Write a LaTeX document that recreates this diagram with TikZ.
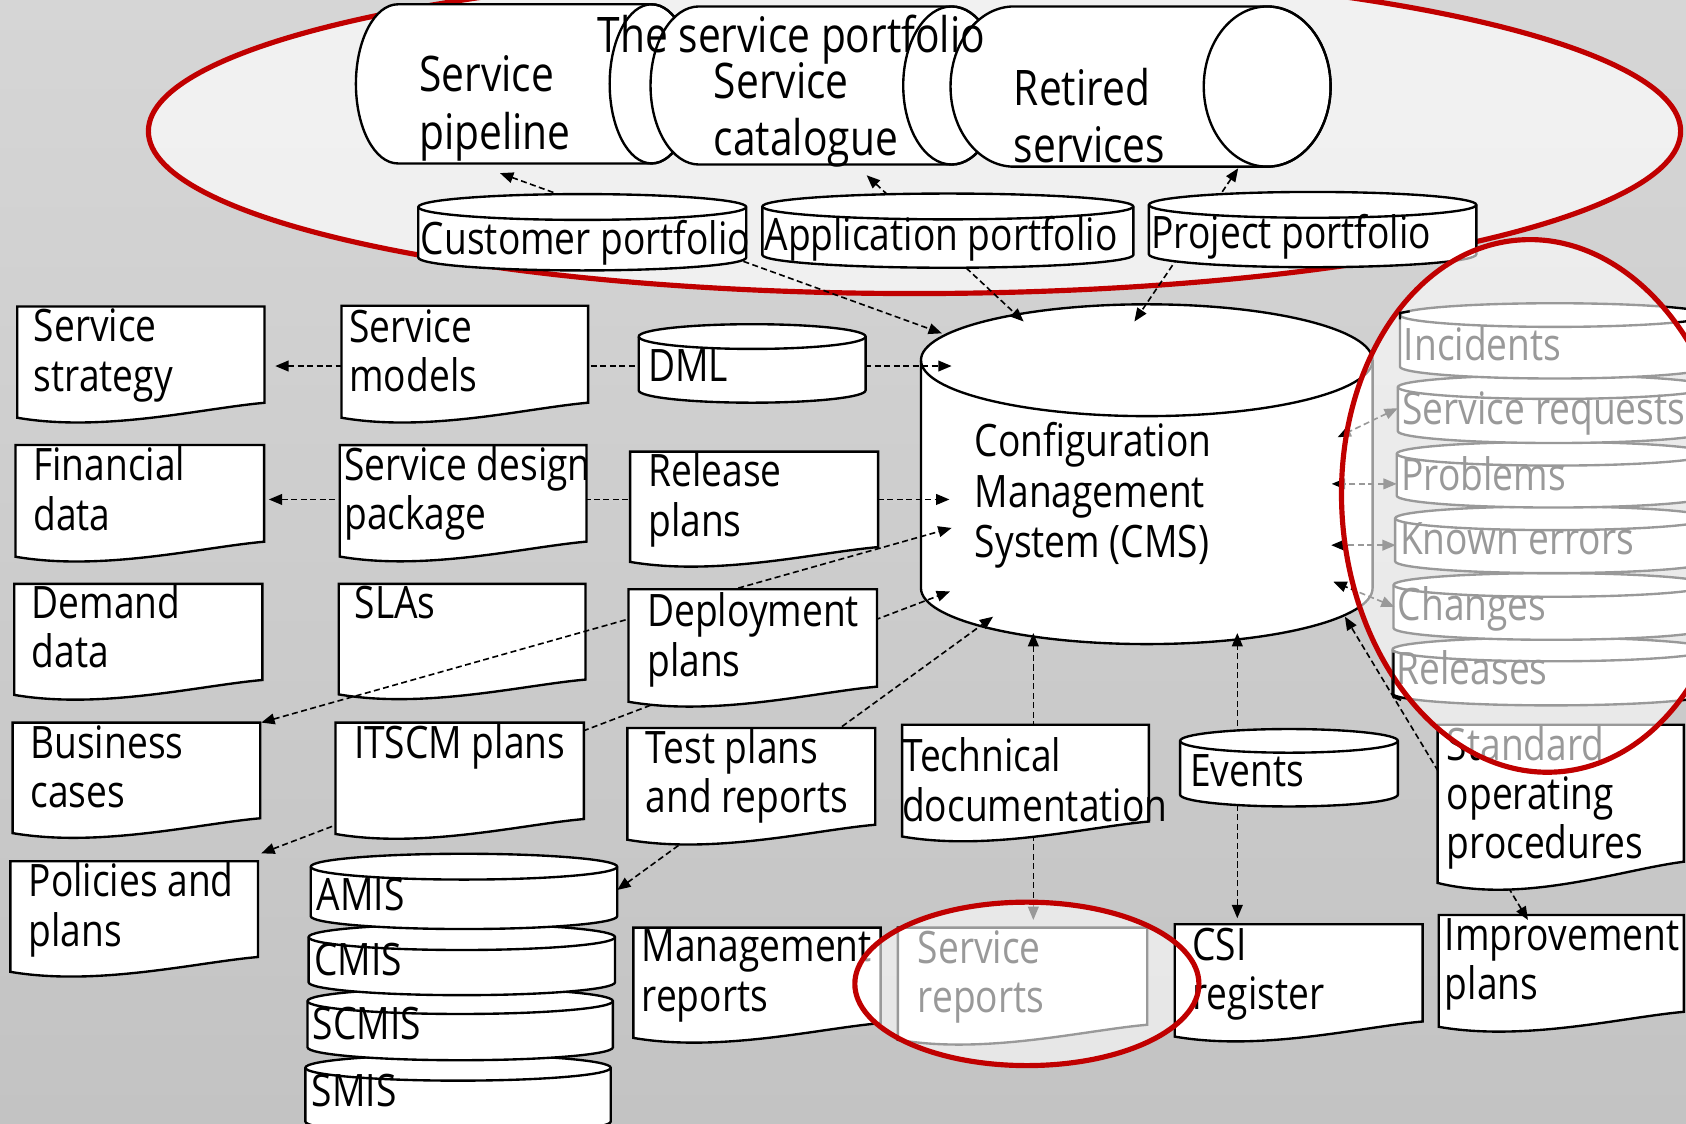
\documentclass[tikz,border=0pt]{standalone}
\usepackage{fontspec}
\setmainfont{Open Sans}[FakeStretch=0.83]
\usetikzlibrary{arrows.meta}
\definecolor{bgtop}{HTML}{D6D6D6}
\definecolor{bgbot}{HTML}{C3C3C3}
\definecolor{ringred}{HTML}{C00000}
\newcommand\fsN{\fontsize{20.8pt}{23pt}\selectfont}
\newcommand\fsC{\fontsize{20.8pt}{23.5pt}\selectfont}
\newcommand\fsT{\fontsize{22.8pt}{26.75pt}\selectfont}
% document shape: x, top, width, height of the right side
\newcommand\docbox[4]{%
  \path[shp] (#1,#2) -- ({#1+#3},#2) -- ({#1+#3},{#2+#4})
    .. controls ({#1+0.75*#3},{#2+1.056*#4}) and ({#1+0.35*#3},{#2+1.31*#4}) .. (#1,{#2+1.155*#4}) -- cycle;}
% horizontal cylinder: left cap centre x, right cap centre x, top, bottom, cap radius
\newcommand\hcyl[5]{%
  \pgfmathsetmacro\hcry{(#4-#3)/2}%
  \pgfmathsetmacro\hcyc{(#4+#3)/2}%
  \path[shp] (#1,#3) -- (#2,#3) arc[start angle=-90, end angle=90, x radius=#5, y radius=\hcry]
     -- (#1,#4) arc[start angle=90, end angle=270, x radius=#5, y radius=\hcry] -- cycle;
  \draw[shpl] (#2,\hcyc) ellipse [x radius=#5, y radius=\hcry];}
% upright disk store: left x, right x, top-ellipse centre y, ellipse radius y, side height
\newcommand\vdisk[5]{%
  \pgfmathsetmacro\vdrx{(#2-#1)/2}%
  \path[shp] (#1,#3) -- ++(0,#5) arc[start angle=180, end angle=0, x radius=\vdrx, y radius=#4]
     -- (#2,#3) arc[start angle=0, end angle=-180, x radius=\vdrx, y radius=#4] -- cycle;
  \draw[shpl] (#1,#3) arc[start angle=180, end angle=0, x radius=\vdrx, y radius=#4];}
\begin{document}
\begin{tikzpicture}[x=0.5pt, y=-0.5pt,
  shp/.style={draw=black, line width=1.1pt, fill=white, line join=miter},
  shpl/.style={draw=black, line width=1.1pt},
  conn/.style={line width=0.75pt, dash pattern=on 2.8pt off 1.6pt,
    {Triangle[length=6.2pt,width=5pt]}-{Triangle[length=6.2pt,width=5pt]}},
  txt/.style={inner sep=0pt, outer sep=0pt, align=left, anchor=north west, font=\fsN},
  lbl/.style={inner sep=0pt, outer sep=0pt, anchor=base west, font=\fsN},
  ring/.style={draw=ringred, line width=2.4pt},
  veil/.style={fill=white, fill opacity=0.6}]

\useasboundingbox (0,0) rectangle (1568,1045);
\fill[top color=bgtop, bottom color=bgbot] (0,0) rectangle (1568,1045);

% the service portfolio group (lighter ground)
\draw[ring, fill=white, fill opacity=0.68] (850.5,122) ellipse [x radius=712.5, y radius=151];

% ---------- end shapes ----------
\hcyl{370}{606}{4}{152}{39}
\hcyl{650}{885}{6}{153}{45}
\hcyl{943}{1178.5}{6}{155}{59}
\node[txt, font=\fsT] (pipe) at (390,47.85) {\strut Service\\pipeline};
\node[txt, font=\fsT] (cat) at (664,54.05) {\strut Service\\catalogue};
\node[txt, font=\fsT] (ret) at (943,60.5) {\strut Retired\\services};
\node[lbl, font=\fsT] (portfolio) at (556,49) {The service portfolio};

% configuration management system
\path[shp] (856.5,335) -- (856.5,547) arc[start angle=180, end angle=0, x radius=210, y radius=52]
   -- (1276.5,335) arc[start angle=0, end angle=-180, x radius=210, y radius=52] -- cycle;
\draw[shpl] (856.5,335) arc[start angle=180, end angle=0, x radius=210, y radius=52];
\node[txt, font=\fsC] (cms) at (906.7,391.8) {\strut Configuration\\Management\\System (CMS)};

\docbox{16}{285}{230}{89.6}
\node[txt] (strategy) at (31.5,285.8) {\strut Service\\strategy};
\docbox{14.4}{413.8}{231.2}{90}
\node[txt] (financial) at (31,414.8) {\strut Financial\\data};
\docbox{13.3}{543}{230.7}{89.4}
\node[txt] (demand) at (29.4,542.8) {\strut Demand\\data};
\docbox{11.7}{672}{230.3}{89}
\node[txt] (business) at (28.3,672.8) {\strut Business\\cases};
\docbox{9.6}{801}{230.4}{89}
\node[txt] (policies) at (26.7,801.8) {\strut Policies and\\plans};
\docbox{315}{543}{229.5}{89}
\node[txt] (slas) at (330,542.8) {\strut SLAs};

% information systems stack
\vdisk{284}{568}{993}{12}{50}
\node[lbl] (smis) at (290,1028.6) {SMIS};
\vdisk{286}{570}{931}{12}{43}
\node[lbl] (scmis) at (291,967) {SCMIS};
\vdisk{287}{572}{871.5}{12}{42}
\node[lbl] (cmis) at (292.5,907.6) {CMIS};
\vdisk{289}{574}{806}{12}{46}
\node[lbl] (amis) at (294.6,847) {AMIS};

\docbox{835}{862.7}{232}{90.3}
\node[txt] (srep) at (853.7,863.8) {\strut Service\\reports};
\docbox{1338}{851}{228}{90}
\node[txt] (impr) at (1343.8,851.3) {\strut Improvement\\plans};

% service management records
\vdisk{1295}{1590}{604}{11}{41}
\node[lbl] (releases) at (1299,637) {Releases};
\vdisk{1296}{1590}{544}{11}{40}
\node[lbl] (changes) at (1300,576.6) {Changes};
\vdisk{1297.5}{1590}{482}{11}{40}
\node[lbl] (kerrors) at (1302,516) {Known errors};
\vdisk{1299}{1590}{422}{11}{39}
\node[lbl] (problems) at (1303.5,455.7) {Problems};
\vdisk{1300}{1590}{360}{11}{41}
\node[lbl] (sreq) at (1304.4,395) {Service requests};
\vdisk{1302}{1590}{293}{11}{48}
\node[lbl] (incidents) at (1305.7,334.8) {Incidents};

% ---------- connectors ----------
\coordinate (e-pipe) at (465,161);      \coordinate (e-cms-a) at (876,310);
\coordinate (e-cat) at (806,163);       \coordinate (e-cms-b) at (952,299);
\coordinate (e-ret) at (1151.5,156.5);  \coordinate (e-cms-c) at (1055,299);
\coordinate (e-strat) at (256,340.4);   \coordinate (e-cms-d) at (885,340.4);
\coordinate (e-fin) at (250,464.5);     \coordinate (e-cms-e) at (883,464.5);
\coordinate (e-bus) at (243,672);       \coordinate (e-cms-f) at (885,491);
\coordinate (e-pol) at (243,793.6);     \coordinate (e-cms-g) at (883.5,550);
\coordinate (e-amis) at (574,827.7);    \coordinate (e-cms-h) at (923.6,573.5);
\coordinate (e-srep) at (961,855.6);    \coordinate (e-cms-i) at (961,588.7);
\coordinate (e-csi) at (1150.7,854);    \coordinate (e-cms-j) at (1150.7,588.7);
\coordinate (e-impr) at (1421,855.6);   \coordinate (e-cms-k) at (1250.8,573.5);
\coordinate (e-sreq) at (1300,379.6);   \coordinate (e-cms-l) at (1244,406.6);
\coordinate (e-prob) at (1299,450);     \coordinate (e-cms-m) at (1238.5,450);
\coordinate (e-kerr) at (1298,507);     \coordinate (e-cms-n) at (1238,507);
\coordinate (e-chg) at (1297,564.4);    \coordinate (e-cms-o) at (1240,541);
\foreach \a/\b in {pipe/a, cat/b, ret/c, strat/d, fin/e, bus/f, pol/g, amis/h,
                   srep/i, csi/j, impr/k, sreq/l, prob/m, kerr/n, chg/o}
  \draw[conn] (e-\a) -- (e-cms-\b);

% ---------- shapes the connectors pass behind ----------
\vdisk{389}{694}{192.5}{12}{47}
\node[lbl] (custp) at (391.5,237) {Customer portfolio};
\vdisk{709}{1054}{192}{12}{45}
\node[lbl] (appp) at (711,233) {Application portfolio};
\vdisk{1068.5}{1373}{190.5}{12}{46}
\node[lbl] (projp) at (1071,231) {Project portfolio};
\vdisk{594}{805}{313}{11.5}{50}
\node[lbl] (dml) at (603,355) {DML};
\vdisk{1097.5}{1300}{689}{11}{50}
\node[lbl] (events) at (1107,731) {Events};

\docbox{317.6}{284.3}{229.4}{90.2}
\node[txt] (models) at (325,286.3) {\strut Service\\models};
\docbox{316}{414}{229.5}{89.7}
\node[txt] (sdp) at (320.3,414.2) {\strut Service design\\package};
\docbox{312}{672}{231}{89.7}
\node[txt] (itscm) at (329.3,673) {\strut ITSCM plans};
\docbox{586}{420}{230.7}{88.8}
\node[txt] (release) at (603,420.4) {\strut Release\\plans};
\docbox{584.5}{548}{231.1}{90.6}
\node[txt] (deploy) at (602,550.6) {\strut Deployment\\plans};
\docbox{583.5}{677}{230.5}{90}
\node[txt] (test) at (600.5,677.8) {\strut Test plans\\and reports};
\docbox{589}{862.7}{230}{88.8}
\node[txt] (mgmt) at (596.8,862.1) {\strut Management\\reports};
\docbox{839}{674}{229.5}{90}
\node[txt] (tech) at (839,685.4) {\strut Technical\\documentation};
\docbox{1337}{674}{229}{127.4}
\node[txt] (sop) at (1345.6,674.6) {\strut Standard\\operating\\procedures};

% ---------- highlighted areas ----------
\path[veil, rotate around={4.2:(1431,470.5)}] (1431,470.5) ellipse [x radius=183, y radius=248];
\path[veil] (955,915) ellipse [x radius=160, y radius=76];

\docbox{1092.5}{859.5}{230.5}{90.5}
\node[txt] (csi) at (1109,860.6) {\strut CSI\\register};

\draw[ring, rotate around={4.2:(1431,470.5)}] (1431,470.5) ellipse [x radius=183, y radius=248];
\draw[ring] (955,915) ellipse [x radius=160, y radius=76];

% frame corners of the record group
\draw[line width=1.1pt] (1302,297) -- (1302,291) -- (1311,289.5);
\draw[line width=1.1pt] (1296,607) -- (1296,648) -- (1303,651);
\end{tikzpicture}
\end{document}
